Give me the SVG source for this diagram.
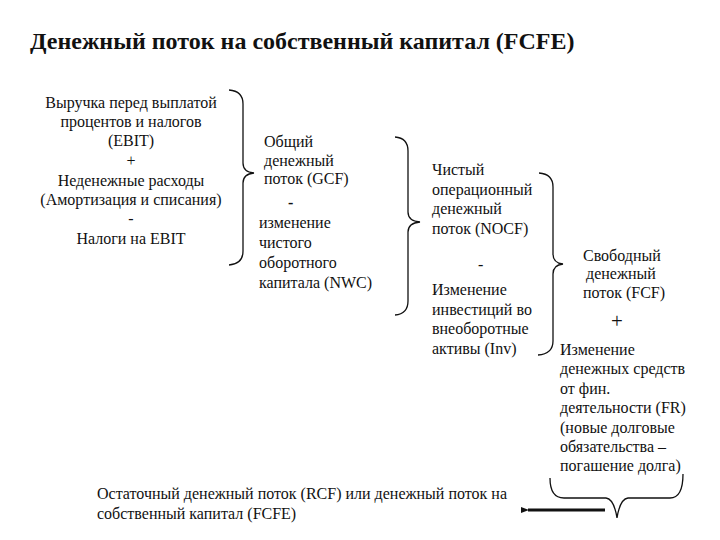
<svg xmlns="http://www.w3.org/2000/svg" width="720" height="540" viewBox="0 0 720 540">
<style>
text{font-family:'Liberation Serif','Times New Roman',serif;font-size:16px;fill:#111}
text.title{font-size:24px;font-weight:bold}
.c{text-anchor:middle}
.brace{fill:none;stroke:#111;stroke-width:1.3}
.arrow{fill:none;stroke:#111;stroke-width:3}
</style>
<defs>
<marker id="ah" markerWidth="8" markerHeight="6" refX="1" refY="3" orient="auto" markerUnits="userSpaceOnUse"><path d="M8,0 L0,3 L8,6 Z" fill="#111"/></marker>
</defs>
<rect width="720" height="540" fill="#fff"/>
<g id="title"><text class="title" x="30" y="49">Денежный поток на собственный капитал (FCFE)</text></g>
<g id="ebit">
<text class="c" x="131" y="108">Выручка перед выплатой</text>
<text class="c" x="131" y="127">процентов и налогов</text>
<text class="c" x="131" y="146">(EBIT)</text>
<text class="c" x="131" y="166">+</text>
<text class="c" x="131" y="186">Неденежные расходы</text>
<text class="c" x="131" y="205">(Амортизация и списания)</text>
<text class="c" x="131" y="224">-</text>
<text class="c" x="131" y="244">Налоги на EBIT</text>
</g>
<g id="gcf">
<text x="264" y="147">Общий</text>
<text x="264" y="166">денежный</text>
<text x="264" y="184">поток (GCF)</text>
<text x="288" y="208" style="font-weight:bold">-</text>
<text x="259" y="228">изменение</text>
<text x="259" y="248">чистого</text>
<text x="259" y="268">оборотного</text>
<text x="259" y="288">капитала (NWC)</text>
</g>
<g id="nocf">
<text x="432" y="175">Чистый</text>
<text x="432" y="195">операционный</text>
<text x="432" y="214">денежный</text>
<text x="432" y="234">поток (NOCF)</text>
<text x="478" y="270">-</text>
<text x="432" y="295">Изменение</text>
<text x="432" y="315">инвестиций во</text>
<text x="432" y="334">внеоборотные</text>
<text x="432" y="354">активы (Inv)</text>
</g>
<g id="fcf">
<text x="583" y="261">Свободный</text>
<text x="586" y="279">денежный</text>
<text x="583" y="298">поток (FCF)</text>
<text x="611" y="328" style="font-size:21px">+</text>
<text x="560" y="355">Изменение</text>
<text x="560" y="374">денежных средств</text>
<text x="560" y="394">от фин.</text>
<text x="560" y="413">деятельности (FR)</text>
<text x="560" y="433">(новые долговые</text>
<text x="560" y="452">обязательства –</text>
<text x="560" y="471">погашение долга)</text>
</g>
<g id="rcf">
<text x="97" y="499">Остаточный денежный поток (RCF) или денежный поток на</text>
<text x="97" y="519">собственный капитал (FCFE)</text>
</g>
<g id="connectors">
<path class="brace" d="M229,90 Q243,91 243,104 L243,163 Q243,172 254,173 Q243,174 243,183 L243,251 Q243,264 229,265"/>
<path class="brace" d="M395,137 Q408,138 408,151 L408,212 Q408,221 420,222 Q408,223 408,232 L408,301 Q408,314 395,315"/>
<path class="brace" d="M539,173 Q553,174 553,187 L553,254 Q553,263 563,264 Q553,265 553,274 L553,341 Q553,354 538,355"/>
<path class="brace" d="M550,478 Q550,498 564,498 L606,498 Q614,499 617,518 Q620,499 628,498 L670,498 Q683,498 683,474"/>
<path class="arrow" d="M605,510 L528,510" marker-end="url(#ah)"/>
</g>
</svg>
